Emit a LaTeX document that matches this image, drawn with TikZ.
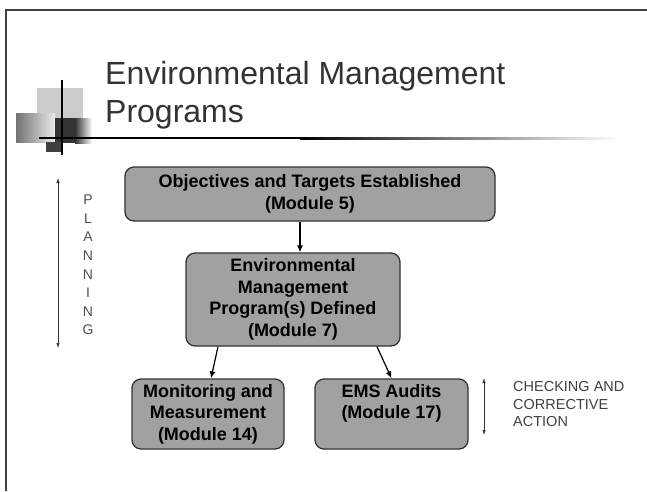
\documentclass[tikz,border=0pt]{standalone}
\usepackage{fontspec}
\setmainfont{Liberation Sans}
\usetikzlibrary{math, arrows.meta}

\tikzset{
    module/.style={draw=black!80, line width=1.3pt, fill=black!37, rounded corners=9pt,
        align=center, inner sep=0pt, font=\bfseries\fontsize{18}{21.5}\selectfont},
    flow/.style={-{Latex[length=7pt, width=6pt]}, line width=1.2pt},
    span/.style={{Latex[length=5pt, width=3.5pt]}-{Latex[length=5pt, width=3.5pt]}, line width=0.7pt, draw=black!80},
    letter/.style={font=\fontsize{14}{14}\selectfont, text=black!70, inner sep=0pt},
}

\begin{document}
\begin{tikzpicture}[x=1pt, y=-1pt]
    \tikzmath{
        \planx=58;
        \plantop=178;
        \planbottom=348;
        \step=18.57;
    }
    \useasboundingbox (0, 0) rectangle (647, 491);

    % frame
    \draw [line width=2pt, black!75] (6, 491) -- (6, 10) -- (647, 10);

    % corner mark
    \fill [black!20] (37, 88) rectangle (83, 118);
    \shade [left color=black!55, right color=black!8] (16, 113) rectangle (55, 142);
    \fill [black!80] (55, 118) rectangle (75, 143);
    \shade [left color=black!80, right color=white] (75, 118) rectangle (92, 143);
    \fill [black!75] (46, 142) rectangle (62, 152);
    \draw [line width=1.5pt] (62, 80) -- (62, 155);
    \fill (39, 137) rectangle (300, 139.2);
    \shade [left color=black, right color=white] (300, 137) rectangle (620, 139.2);

    % title
    \node [anchor=base west, align=left, inner sep=0pt, text=black!80,
        font=\fontsize{32}{38}\selectfont] (title) at (105, 122) {Environmental Management\\Programs};

    % modules
    \node [module, minimum width=370pt, minimum height=54pt] (objectives) at (310, 194)
    {Objectives and Targets Established\\(Module 5)};
    \node [module, minimum width=214pt, minimum height=93pt] (programs) at (293, 299.5)
    {Environmental\\Management\\Program(s) Defined\\(Module 7)};
    \node [module, minimum width=152pt, minimum height=70pt] (monitoring) at (208, 414)
    {Monitoring and\\Measurement\\(Module 14)};
    \node [module, minimum width=153pt, minimum height=70pt] (audits) at (391.5, 414)
    {EMS Audits\\(Module 17)\\\vphantom{(M}};

    \draw [flow] ([xshift=7pt] programs.north |- objectives.south) -- ([xshift=7pt] programs.north);
    \draw [flow] ([xshift=-75pt] programs.south) -- ([xshift=3pt] monitoring.north);
    \draw [flow] ([xshift=84pt] programs.south) -- (audits.north);

    % planning
    \coordinate (plan-top) at (\planx, \plantop);
    \coordinate (plan-bottom) at (\planx, \planbottom);
    \draw [span] (plan-top) -- (plan-bottom);
    \foreach \ch [count=\i] in {P, L, A, N, N, I, N, G}
        \node [letter] (plan-\i) at (88, {200 + (\i - 1) * \step}) {\ch};

    % checking
    \coordinate (check-top) at (484, 378);
    \coordinate (check-bottom) at (484, 435);
    \draw [span] (check-top) -- (check-bottom);
    \node [anchor=west, align=left, inner sep=0pt, text=black!75,
        font=\fontsize{14.5}{17.5}\selectfont] (checking) at (513, 404) {CHECKING AND\\CORRECTIVE\\ACTION};
\end{tikzpicture}
\end{document}
